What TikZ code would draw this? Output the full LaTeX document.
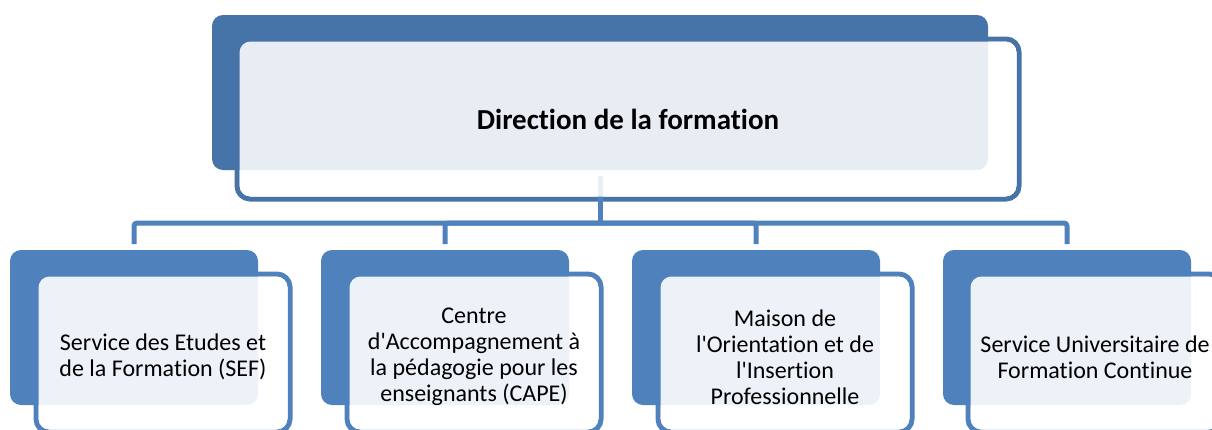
\documentclass[tikz,border=0pt]{standalone}
\usepackage{fontspec}
\setmainfont{Carlito}[Ligatures={TeXOff,CommonOff}]
\definecolor{topblue}{RGB}{70,115,168}
\definecolor{botblue}{RGB}{79,129,189}
\begin{document}
\begin{tikzpicture}[x=1pt,y=-1pt,
  backbox/.style={rounded corners=11pt, minimum width=248pt, minimum height=155pt, inner sep=0pt, outer sep=0pt, fill=botblue},
  frontline/.style={draw=botblue, line width=5pt, rounded corners=13pt, minimum width=254pt, minimum height=158pt, inner sep=0pt, outer sep=0pt},
  frontfill/.style={fill=white, fill opacity=0.9, rounded corners=11pt},
  label/.style={align=center, inner sep=0pt, font=\fontsize{24}{26}\selectfont},
  conn/.style={draw=botblue, line width=5pt, rounded corners=3pt}]
\useasboundingbox (0,0) rectangle (1212,429);
% front outlines
\node[frontline, draw=topblue, minimum width=782pt, minimum height=160pt] (tf) at (628,119) {};
\node[frontline] (f1) at (163,353) {};
\node[frontline] (f2) at (474,353) {};
\node[frontline] (f3) at (785,353) {};
\node[frontline] (f4) at (1095,353) {};
% back boxes
\node[backbox, fill=topblue, minimum width=776pt] (tb) at (600,92.5) {};
\node[backbox] (b1) at (134,327.5) {};
\node[backbox] (b2) at (445,327.5) {};
\node[backbox] (b3) at (756,327.5) {};
\node[backbox] (b4) at (1067,327.5) {};
% connectors
\coordinate (hub) at (600,223);
\draw[conn] ([yshift=-6pt]tb.south) -- (hub);
\foreach \b in {b1,b2,b3,b4}
  \draw[conn] (hub) -| ([yshift=6pt]\b.north);
% translucent front fills
\fill[frontfill, fill opacity=0.88] ([shift={(2.5pt,-2.5pt)}]tf.north west) rectangle ([shift={(-2.5pt,2.5pt)}]tf.south east);
\foreach \f in {f1,f2,f3,f4}
  \fill[frontfill] ([shift={(2.5pt,-2.5pt)}]\f.north west) rectangle ([shift={(-2.5pt,2.5pt)}]\f.south east);
% texts
\node[label, font=\fontsize{29}{35}\selectfont\bfseries] (tt) at (tf.center) {Direction de la formation};
\node[label] (t1) at ([yshift=-4pt]f1.center) {Service des Etudes et\\de la Formation (SEF)};
\node[label] (t2) at ([yshift=-4pt]f2.center) {Centre\\d'Accompagnement à\\la pédagogie pour les\\enseignants (CAPE)};
\node[label] (t3) at ([yshift=-4pt]f3.center) {Maison de\\l'Orientation et de\\l'Insertion\\Professionnelle};
\node[label] (t4) at ([yshift=-4pt]f4.center) {Service Universitaire de\\Formation Continue};
\end{tikzpicture}
\end{document}
